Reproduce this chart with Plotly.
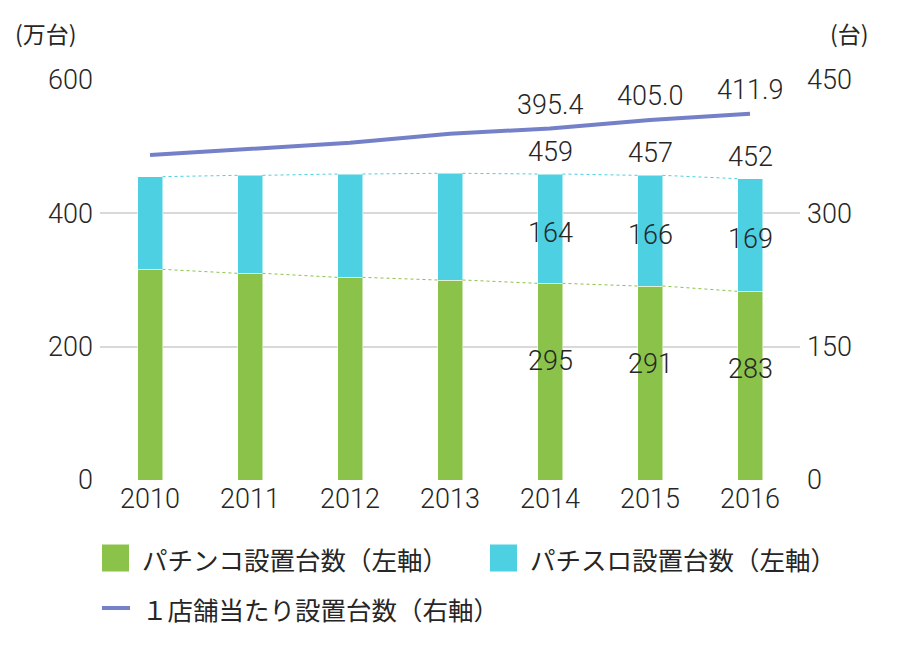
import plotly.graph_objects as go

# ---- data ----
years = ["2010", "2011", "2012", "2013", "2014", "2015", "2016"]
pachinko = [316, 310, 304, 300, 295, 291, 283]          # 万台 (left axis)
pachislo = [139, 147, 155, 160, 164, 166, 169]          # 万台 (left axis)
per_store = [365.6, 372.0, 379.4, 389.6, 395.4, 405.0, 411.9]  # 台 (right axis)
labeled = [4, 5, 6]  # indices carrying data labels

series_names = ["パチンコ設置台数（左軸）", "パチスロ設置台数（左軸）", "１店舗当たり設置台数（右軸）"]
left_ticks = [0, 200, 400, 600]
right_ticks = [0, 150, 300, 450]
left_unit = "(万台)"
right_unit = "(台)"

GREEN = "#8BC34A"
CYAN = "#4DD0E1"
LINE = "#7480C8"
TXT = "#262626"
FONT = "Roboto, Noto Sans CJK JP, sans-serif"
CJK = "Noto Sans CJK JP, Roboto, sans-serif"
NUM = dict(size=27, color=TXT, family=FONT, weight=300)

xs = list(range(len(years)))
totals = [a + b for a, b in zip(pachinko, pachislo)]
BW = 0.25

fig = go.Figure()
fig.add_trace(go.Bar(x=xs, y=pachinko, width=BW, marker=dict(color=GREEN, line=dict(color="rgba(255,255,255,0.5)", width=1)),
                     name=series_names[0], showlegend=False))
fig.add_trace(go.Bar(x=xs, y=pachislo, width=BW, marker=dict(color=CYAN, line=dict(color="rgba(255,255,255,0.5)", width=1)),
                     name=series_names[1], showlegend=False))


def series_lines(vals):
    sx, sy = [], []
    for i in range(len(vals) - 1):
        sx += [xs[i] + BW / 2, xs[i + 1] - BW / 2, None]
        sy += [vals[i], vals[i + 1], None]
    return sx, sy


gx, gy = series_lines(pachinko)
cx, cy = series_lines(totals)
fig.add_trace(go.Scatter(x=gx, y=gy, mode="lines", line=dict(color=GREEN, width=1, dash="dot"),
                         showlegend=False, hoverinfo="skip"))
fig.add_trace(go.Scatter(x=cx, y=cy, mode="lines", line=dict(color=CYAN, width=1, dash="dot"),
                         showlegend=False, hoverinfo="skip"))

fig.add_trace(go.Scatter(x=xs, y=per_store, yaxis="y2", mode="lines", line=dict(color=LINE, width=4),
                         name=series_names[2], showlegend=False))

anns = []
for i in labeled:
    anns.append(dict(x=xs[i], y=totals[i], text=str(totals[i]), showarrow=False, yanchor="bottom", yshift=4,
                     font=NUM))
    anns.append(dict(x=xs[i], y=pachinko[i] + pachislo[i] / 2, text=str(pachislo[i]), showarrow=False,
                     yanchor="middle", yshift=-4, font=NUM))
    anns.append(dict(x=xs[i], y=pachinko[i], text=str(pachinko[i]), showarrow=False, yanchor="middle",
                     yshift=-78, font=NUM))
    anns.append(dict(x=xs[i], y=per_store[i], yref="y2", text=f"{per_store[i]:.1f}", showarrow=False,
                     yanchor="bottom", yshift=6, font=NUM))


# page-pixel helpers for paper coordinates (plot area 100..800 x, 80..480 y on the page)
def px(x):
    return (x - 100) / 700


def py(y):
    return (480 - y) / 400


anns.append(dict(xref="paper", yref="paper", x=px(46), y=py(33), xanchor="center", yanchor="middle",
                 text=left_unit, showarrow=False, font=dict(size=23, color=TXT, family=CJK)))
anns.append(dict(xref="paper", yref="paper", x=px(849), y=py(33), xanchor="center", yanchor="middle",
                 text=right_unit, showarrow=False, font=dict(size=23, color=TXT, family=CJK)))

shapes = []
# manual legend
legend_items = [
    ("rect", GREEN, 102, 558, series_names[0]),
    ("rect", CYAN, 490, 558, series_names[1]),
    ("line", LINE, 102, 608, series_names[2]),
]
for kind, col, lx, ly, label in legend_items:
    if kind == "rect":
        shapes.append(dict(type="rect", xref="paper", yref="paper", x0=px(lx), x1=px(lx + 27),
                           y0=py(ly + 13.5), y1=py(ly - 13.5), fillcolor=col, line=dict(width=0)))
    else:
        shapes.append(dict(type="line", xref="paper", yref="paper", x0=px(lx), x1=px(lx + 28),
                           y0=py(ly), y1=py(ly), line=dict(color=col, width=4)))
    anns.append(dict(xref="paper", yref="paper", x=px(lx + 38), y=py(ly), xanchor="left", yanchor="middle",
                     text=label, showarrow=False, font=dict(size=25.5, color=TXT, family=CJK)))

fig.update_layout(
    width=900, height=650,
    margin=dict(l=92, r=108, t=72, b=178),
    paper_bgcolor="white", plot_bgcolor="white",
    barmode="stack",
    showlegend=False,
    font=dict(family=FONT, size=27, color=TXT),
    xaxis=dict(range=[-0.5, len(years) - 0.5], tickvals=xs, ticktext=years, showgrid=False,
               zeroline=False, showline=False, ticks="", tickfont=NUM),
    yaxis=dict(range=[0, 600], tickvals=left_ticks, showgrid=True, gridcolor="#D9D9D9", gridwidth=2,
               zeroline=False, showline=False, ticks="", ticklabelstandoff=6, tickfont=NUM),
    yaxis2=dict(range=[0, 450], tickvals=right_ticks, overlaying="y", side="right", showgrid=False,
                zeroline=False, showline=False, ticks="", ticklabelstandoff=6, tickfont=NUM),
    annotations=anns,
    shapes=shapes,
)

fig.write_html("out.html")
